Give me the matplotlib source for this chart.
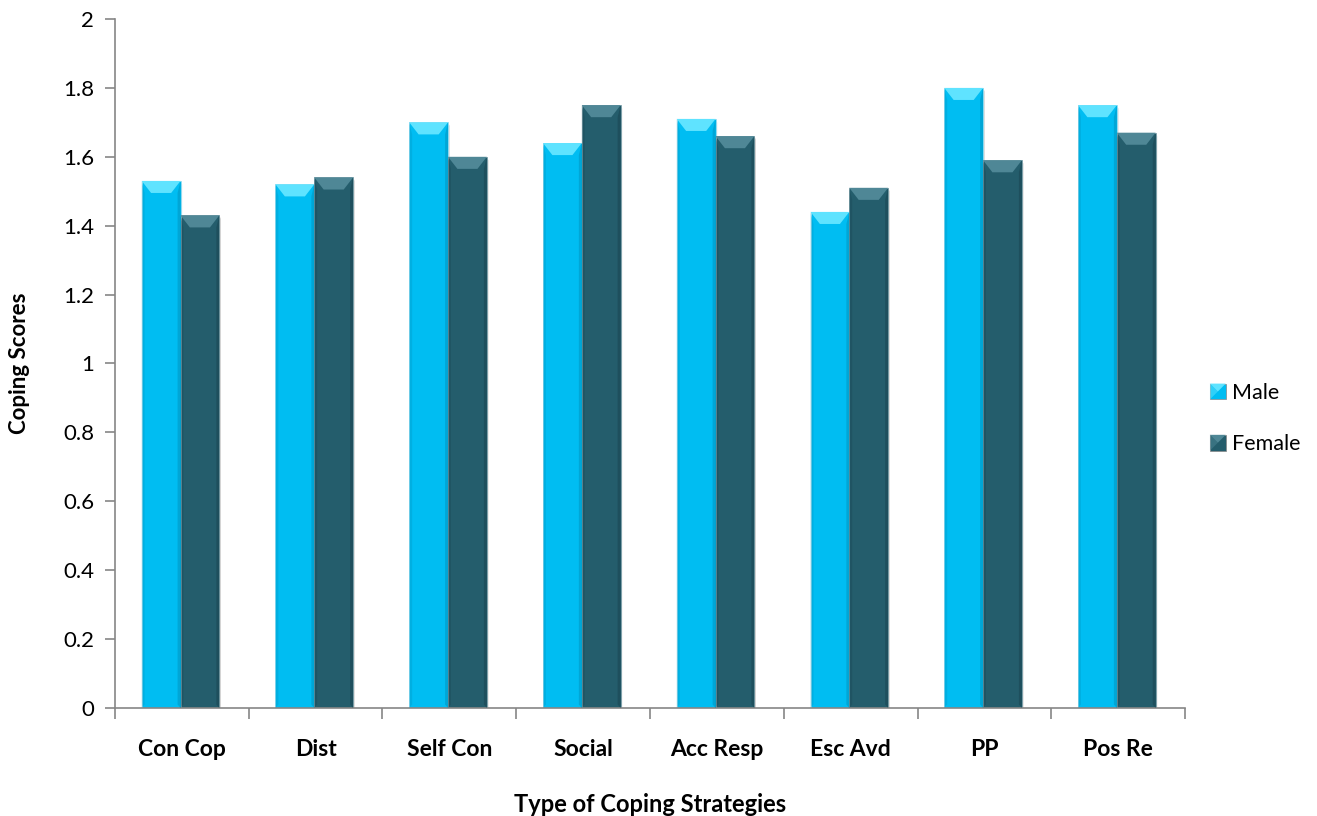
import numpy as np
import matplotlib.pyplot as plt
from matplotlib.patches import Polygon, Patch
from matplotlib.legend_handler import HandlerPatch

plt.rcParams['font.family'] = ['Lato', 'DejaVu Sans']

categories = ["Con Cop", "Dist", "Self Con", "Social", "Acc Resp", "Esc Avd", "PP", "Pos Re"]
male = [1.53, 1.52, 1.70, 1.64, 1.71, 1.44, 1.80, 1.75]
female = [1.43, 1.54, 1.60, 1.75, 1.66, 1.51, 1.59, 1.67]

male_col = "#00BDF2"
female_col = "#245D6C"
male_light = "#5FE3FF"
female_light = "#4F8796"
male_dark = "#0097C4"
female_dark = "#1A4653"

fig = plt.figure(figsize=(13.17, 8.16), dpi=100)
ax = fig.add_axes([0.0873, 0.1324, 0.8125, 0.8443])

x = np.arange(len(categories))
w = 0.29
bars_m = ax.bar(x - w / 2 - 0.01, male, w, color=male_col, edgecolor="#9ADFF3", linewidth=0.6, zorder=2)
bars_f = ax.bar(x + w / 2 - 0.01, female, w, color=female_col, edgecolor="#7FA3AD", linewidth=0.6, zorder=2)

# bevel facets on each bar
dy = 0.035
for bars, light, dark in [(bars_m, male_light, male_dark), (bars_f, female_light, female_dark)]:
    for b in bars:
        x0 = b.get_x()
        bw = b.get_width()
        h = b.get_height()
        sx = 0.022
        # soft shadow
        ax.add_patch(Polygon([(x0 + bw, 0), (x0 + bw + 0.012, 0), (x0 + bw + 0.012, h - 0.01), (x0 + bw, h)],
                             closed=True, color="#d0d0d0", lw=0, zorder=1))
        ax.add_patch(Polygon([(x0, h), (x0 + bw, h), (x0 + bw - 0.07, h - dy), (x0 + 0.07, h - dy)],
                             closed=True, color=light, lw=0, zorder=3))
        ax.add_patch(Polygon([(x0, 0), (x0 + sx, 0.01), (x0 + sx, h - dy), (x0, h)],
                             closed=True, color=dark, alpha=0.35, lw=0, zorder=3))
        ax.add_patch(Polygon([(x0 + bw, 0), (x0 + bw - sx, 0.01), (x0 + bw - sx, h - dy), (x0 + bw, h)],
                             closed=True, color=dark, alpha=0.6, lw=0, zorder=3))

ax.set_ylim(0, 2)
ax.set_xlim(-0.5, len(categories) - 0.5)
ax.set_yticks(np.arange(0, 2.01, 0.2))
ax.set_yticklabels(["0", "0.2", "0.4", "0.6", "0.8", "1", "1.2", "1.4", "1.6", "1.8", "2"])
ax.set_xticks(x)
ax.set_xticklabels(categories, fontweight="bold", fontsize=16.5)
ax.set_xticks(np.arange(-0.5, len(categories), 1), minor=True)
ax.tick_params(axis="x", which="major", length=0, pad=22)
ax.tick_params(axis="x", which="minor", length=8, color="#868686", width=1.2)
ax.tick_params(axis="y", length=7, color="#868686", width=1.2, labelsize=16, pad=8)

for s in ["top", "right"]:
    ax.spines[s].set_visible(False)
for s in ["left", "bottom"]:
    ax.spines[s].set_color("#868686")
    ax.spines[s].set_linewidth(1.2)

ax.set_xlabel("Type of Coping Strategies", fontweight="bold", fontsize=17, labelpad=24)
ax.set_ylabel("Coping Scores", fontweight="bold", fontsize=16, labelpad=24)


class BevelHandler(HandlerPatch):
    def __init__(self, light, **kw):
        super().__init__(**kw)
        self.light = light

    def create_artists(self, legend, orig_handle, xdescent, ydescent, width, height, fontsize, trans):
        s = min(width, height)
        x0 = -xdescent + (width - s) / 2
        y0 = -ydescent
        base = Polygon([(x0, y0), (x0 + s, y0), (x0 + s, y0 + s), (x0, y0 + s)], closed=True,
                       facecolor=orig_handle.get_facecolor(), edgecolor="#888888", lw=0.5, transform=trans)
        c = (x0 + s / 2, y0 + s / 2)
        top = Polygon([(x0, y0 + s), (x0 + s, y0 + s), c], closed=True, facecolor=self.light, lw=0, transform=trans)
        left = Polygon([(x0, y0), (x0, y0 + s), c], closed=True, facecolor=self.light, alpha=0.5, lw=0, transform=trans)
        return [base, left, top]


h_m = Patch(facecolor=male_col)
h_f = Patch(facecolor=female_col)
ax.legend([h_m, h_f], ["Male", "Female"], loc="center left", bbox_to_anchor=(1.005, 0.42),
          frameon=False, fontsize=15.5, handlelength=0.75, handleheight=0.75, handletextpad=0.3,
          labelspacing=1.45,
          handler_map={h_m: BevelHandler(male_light), h_f: BevelHandler(female_light)})

fig.savefig("out.png", dpi=100)
